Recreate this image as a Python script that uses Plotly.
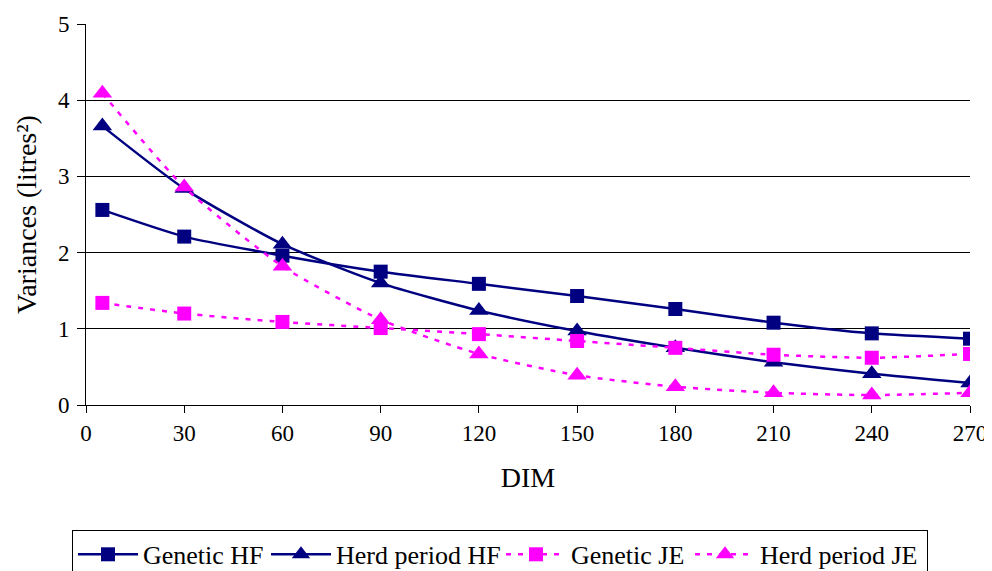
import plotly.graph_objects as go

dim = [5, 30, 60, 90, 120, 150, 180, 210, 240, 270]
genetic_hf = [2.56, 2.21, 1.96, 1.75, 1.59, 1.43, 1.26, 1.08, 0.94, 0.87]
herd_hf = [3.66, 2.84, 2.11, 1.60, 1.24, 0.97, 0.75, 0.56, 0.41, 0.29]
genetic_je = [1.34, 1.20, 1.09, 1.01, 0.93, 0.84, 0.75, 0.66, 0.62, 0.67]
herd_je = [4.09, 2.86, 1.82, 1.12, 0.67, 0.39, 0.24, 0.16, 0.13, 0.16]

navy = "#000080"
mag = "#FF00FF"
font = "Times New Roman, Liberation Serif, serif"

fig = go.Figure()
def add(y, name, color, sym, dash, size, lw):
    fig.add_trace(go.Scatter(
        x=dim, y=y, name=name, mode="lines+markers",
        line=dict(color=color, width=2.5, dash=dash, shape="spline", smoothing=0.6),
        marker=dict(symbol=sym, size=size, color=color),
        legendwidth=lw,
    ))

add(genetic_hf, "Genetic HF", navy, "square", "solid", 14, 118)
add(herd_hf, "Herd period HF", navy, "triangle-up", "solid", 17, 160)
add(genetic_je, "Genetic JE", mag, "square", "5px,7px", 14, 114)
add(herd_je, "Herd period JE", mag, "triangle-up", "5px,7px", 17, 162)

# body has an 8px default margin, so the figure is offset by 8px
fig.update_layout(
    width=984, height=563,
    margin=dict(l=78, r=22, t=16, b=166, autoexpand=False),
    paper_bgcolor="white", plot_bgcolor="white",
    font=dict(family=font, size=23, color="black"),
    showlegend=True,
    legend=dict(orientation="h", x=0.5, xref="container", xanchor="center",
                y=0.073, yref="container", yanchor="top",
                bordercolor="black", borderwidth=1, font=dict(size=26, family=font),
                itemwidth=60, tracegroupgap=0),
    xaxis=dict(range=[0, 270], tickvals=[0, 30, 60, 90, 120, 150, 180, 210, 240, 270],
               showgrid=False, showline=True, linecolor="black", linewidth=1,
               ticks="outside", ticklen=7, tickcolor="black", zeroline=False,
               automargin=False, title=dict(text="DIM", standoff=22)),
    yaxis=dict(range=[0, 5], tickvals=[0, 1, 2, 3, 4, 5],
               showgrid=True, gridcolor="black", gridwidth=1,
               showline=True, linecolor="black", linewidth=1,
               ticks="outside", ticklen=8, tickcolor="black", zeroline=False,
               ticklabelstandoff=3,
               automargin=False, title=dict(text="Variances (litres²)", standoff=13)),
)
fig.write_html("out.html")
